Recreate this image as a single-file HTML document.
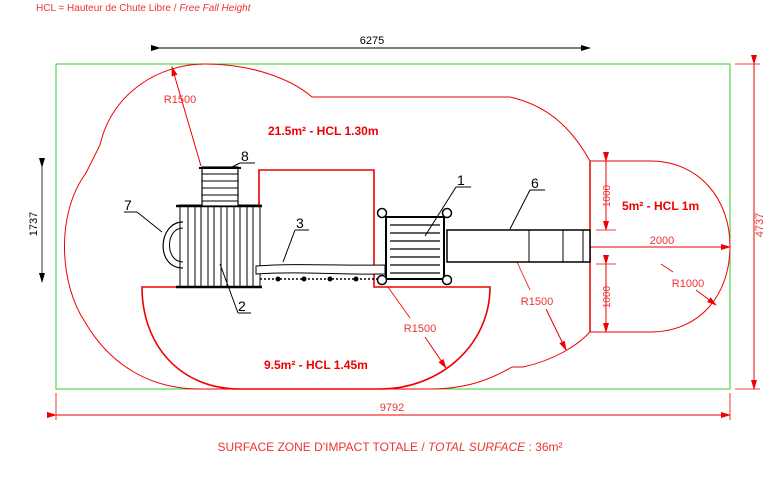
<!DOCTYPE html>
<html><head><meta charset="utf-8"><style>
html,body{margin:0;padding:0;background:#fff;}
svg{display:block;font-family:"Liberation Sans",sans-serif;}
</style></head><body>
<svg width="781" height="480" viewBox="0 0 781 480" xmlns="http://www.w3.org/2000/svg">
<defs>
<marker id="ar" markerWidth="10" markerHeight="6" refX="9" refY="3" orient="auto" markerUnits="userSpaceOnUse"><path d="M0,0 L10,3 L0,6 z" fill="#e00"/></marker>
<marker id="ab" markerWidth="10" markerHeight="6" refX="9" refY="3" orient="auto" markerUnits="userSpaceOnUse"><path d="M0,0 L10,3 L0,6 z" fill="#000"/></marker>
</defs>
<text x="36" y="11" font-size="10" fill="#e33">HCL = Hauteur de Chute Libre / <tspan font-style="italic">Free Fall Height</tspan></text>

<!-- top dim -->
<line x1="160" y1="48" x2="590" y2="48" stroke="#000" stroke-width="1" marker-start="url(#ab)" marker-end="url(#ab)"/>
<text x="372" y="44" font-size="11" text-anchor="middle">6275</text>
<!-- left dim -->
<line x1="42" y1="167" x2="42" y2="282" stroke="#333" stroke-width="1" marker-start="url(#ab)" marker-end="url(#ab)"/>
<text transform="translate(37,224) rotate(-90)" font-size="11" text-anchor="middle">1737</text>

<!-- green rect -->
<rect x="56" y="64" width="674" height="325" fill="none" stroke="#3c3" stroke-width="1"/>

<!-- right dim 4737 -->
<line x1="735" y1="64" x2="760" y2="64" stroke="#e00" stroke-width="0.8"/>
<line x1="735" y1="389" x2="760" y2="389" stroke="#e00" stroke-width="0.8"/>
<line x1="754" y1="64" x2="754" y2="389" stroke="#e00" stroke-width="1" marker-start="url(#ar)" marker-end="url(#ar)"/>
<text transform="translate(763,225) rotate(-90)" font-size="11" fill="#e33" text-anchor="middle">4737</text>

<!-- bottom dim 9792 -->
<line x1="56" y1="393" x2="56" y2="420" stroke="#e00" stroke-width="0.8"/>
<line x1="730" y1="393" x2="730" y2="420" stroke="#e00" stroke-width="0.8"/>
<line x1="56" y1="415" x2="730" y2="415" stroke="#e00" stroke-width="1" marker-start="url(#ar)" marker-end="url(#ar)"/>
<text x="392" y="411" font-size="11" fill="#e33" text-anchor="middle">9792</text>

<!-- outer cloud -->
<path d="M100,145 C112,92 160,64 205,64 C250,64 290,78 312,97 L510,97 C545,105 570,125 590,161 L650,161 C700,161 730,200 730,246 C730,295 700,332 650,332 L590,332 C578,345 555,360 523,367 L512,367 C490,380 465,389 430,389 L200,389 C150,389 110,365 85,322 C60,285 55,215 86,173 Z" fill="none" stroke="#e00" stroke-width="1"/>
<line x1="590" y1="161" x2="590" y2="332" stroke="#e00" stroke-width="1.5"/>

<!-- inner zones -->
<path d="M259,283 L259,170 L374,170 L374,287 L490,287 C490,345 440,389 380,389 L240,389 C180,389 142,345 142,287 L176,287" fill="none" stroke="#e00" stroke-width="1.6"/>

<!-- dims right zone -->
<line x1="606" y1="161" x2="606" y2="230" stroke="#e00" stroke-width="1" marker-start="url(#ar)" marker-end="url(#ar)"/>
<line x1="596" y1="230" x2="616" y2="230" stroke="#e00" stroke-width="0.8"/>
<text transform="translate(610,196) rotate(-90)" font-size="10" fill="#e33" text-anchor="middle">1000</text>
<line x1="606" y1="264" x2="606" y2="332" stroke="#e00" stroke-width="1" marker-start="url(#ar)" marker-end="url(#ar)"/>
<line x1="596" y1="264" x2="616" y2="264" stroke="#e00" stroke-width="0.8"/>
<text transform="translate(610,297) rotate(-90)" font-size="10" fill="#e33" text-anchor="middle">1000</text>
<line x1="590" y1="247" x2="730" y2="247" stroke="#e00" stroke-width="1" marker-start="url(#ar)" marker-end="url(#ar)"/>
<text x="662" y="244" font-size="11" fill="#e33" text-anchor="middle">2000</text>
<text x="622" y="210" font-size="12" font-weight="bold" fill="#e00">5m² - HCL 1m</text>
<line x1="661" y1="264" x2="673" y2="272" stroke="#e00" stroke-width="0.8"/>
<text x="688" y="287" font-size="11" fill="#e33" text-anchor="middle">R1000</text>
<line x1="696" y1="290" x2="716" y2="305" stroke="#e00" stroke-width="1" marker-end="url(#ar)"/>

<!-- R1500 labels -->
<line x1="201" y1="166" x2="172" y2="67" stroke="#e00" stroke-width="1" marker-end="url(#ar)"/>
<text x="180" y="103" font-size="11" fill="#e33" text-anchor="middle">R1500</text>
<line x1="388" y1="287" x2="410" y2="318" stroke="#e00" stroke-width="0.8"/>
<text x="420" y="332" font-size="11" fill="#e33" text-anchor="middle">R1500</text>
<line x1="425" y1="337" x2="446" y2="368" stroke="#e00" stroke-width="1" marker-end="url(#ar)"/>
<line x1="517" y1="262" x2="530" y2="290" stroke="#e00" stroke-width="0.8"/>
<text x="537" y="305" font-size="11" fill="#e33" text-anchor="middle">R1500</text>
<line x1="546" y1="309" x2="566" y2="350" stroke="#e00" stroke-width="1" marker-end="url(#ar)"/>

<text x="268" y="135" font-size="12" font-weight="bold" fill="#e00">21.5m² - HCL 1.30m</text>
<text x="264" y="369" font-size="12" font-weight="bold" fill="#e00">9.5m² - HCL 1.45m</text>

<!-- equipment: tower 2 -->
<g stroke="#000" fill="none">
<rect x="180" y="205" width="80" height="82" fill="#fff" stroke-width="1"/>
<line x1="176" y1="206" x2="262" y2="206" stroke-width="2.5"/>
<line x1="176" y1="287" x2="262" y2="287" stroke-width="2.5"/>
<path d="M188,206 V287 M195,206 V287 M201,206 V287 M208,206 V287 M214,206 V287 M221,206 V287 M227,206 V287 M234,206 V287 M240,206 V287 M247,206 V287 M253,206 V287" stroke-width="1"/>
<!-- platform 8 -->
<rect x="202" y="167" width="36" height="39" fill="#fff" stroke-width="1.2"/>
<path d="M202,174 H238 M202,181 H238 M202,188 H238 M202,195 H238 M202,201 H238" stroke-width="1"/>
<line x1="199" y1="168" x2="241" y2="168" stroke-width="2"/>
<!-- climb 7 -->
<path d="M183,222 C158,222 155,268 183,268" stroke-width="1.2"/>
<path d="M183,228 C165,228 165,262 183,262" stroke-width="1"/>
<!-- slide 3 -->
<path d="M256,266 C300,263 340,266 385,265 L385,274 C340,275 300,271 256,274 Z" fill="#fff" stroke-width="1"/>
<path d="M260,279 H380" stroke-width="1.5" stroke-dasharray="2,2"/>
<g fill="#000"><circle cx="278" cy="279" r="2"/><circle cx="304" cy="279" r="2"/><circle cx="330" cy="279" r="2"/><circle cx="356" cy="279" r="2"/></g>
<!-- box 1 -->
<rect x="386" y="217" width="58" height="62" fill="#fff" stroke-width="2"/>
<path d="M390,225 H440 M390,233 H440 M390,241 H440 M390,249 H440 M390,257 H440 M390,265 H440 M390,273 H440" stroke-width="1.2"/>
<circle cx="382" cy="213" r="4.5" fill="#fff" stroke-width="1.5"/>
<circle cx="447" cy="213" r="4.5" fill="#fff" stroke-width="1.5"/>
<circle cx="382" cy="280" r="4.5" fill="#fff" stroke-width="1.5"/>
<circle cx="447" cy="280" r="4.5" fill="#fff" stroke-width="1.5"/>
<!-- tunnel 6 -->
<rect x="447" y="230" width="143" height="32" fill="#fff" stroke-width="1.5"/>
<path d="M529,230 V262 M563,230 V262 M583,230 V262" stroke-width="1"/>
<!-- leaders -->
<path d="M456,187 H471 M456,187 L425,236" stroke-width="1"/>
<path d="M238,313 H251 M238,313 L220,264" stroke-width="1"/>
<path d="M295,230 H309 M295,230 L283,262" stroke-width="1"/>
<path d="M530,190 H545 M530,190 L510,229" stroke-width="1"/>
<path d="M124,212 H137 M137,212 L162,232" stroke-width="1"/>
<path d="M240,163 H255 M240,163 L232,167" stroke-width="1"/>
</g>
<g font-size="14" fill="#000">
<text x="457" y="185">1</text>
<text x="238" y="311">2</text>
<text x="296" y="228">3</text>
<text x="531" y="188">6</text>
<text x="124" y="210">7</text>
<text x="241" y="161">8</text>
</g>

<text x="390" y="451" font-size="12" fill="#e33" text-anchor="middle">SURFACE ZONE D'IMPACT TOTALE / <tspan font-style="italic">TOTAL SURFACE</tspan> : 36m²</text>
</svg>
</body></html>
